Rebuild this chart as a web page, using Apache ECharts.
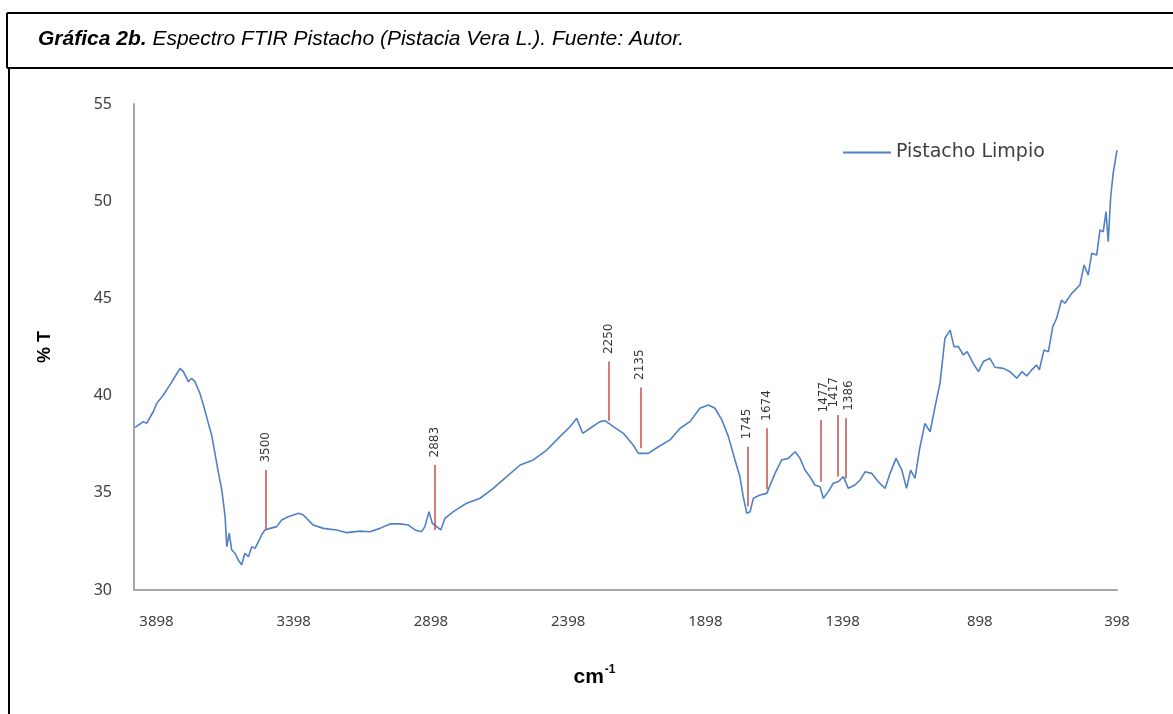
<!DOCTYPE html>
<html>
<head>
<meta charset="utf-8">
<script src="https://cdn.jsdelivr.net/npm/echarts@6/dist/echarts.min.js"></script>
<style>
  html, body { margin: 0; padding: 0; background: #fff; }
  #chart { width: 1173px; height: 714px; }
</style>
</head>
<body>
<div id="chart"></div>
<script>
// FTIR spectrum of pistachio: wavenumber (cm-1) and transmittance (%T)
const wavenumber = [
  3976, 3946, 3934, 3910, 3897, 3873, 3849, 3831, 3812, 3800, 3782, 3770, 3758, 3740, 3727,
  3709, 3697, 3685, 3673, 3660, 3648, 3642, 3633, 3624, 3612, 3600, 3588, 3576, 3563, 3551,
  3539, 3527, 3515, 3503, 3484, 3460, 3442, 3418, 3381, 3363, 3327, 3290, 3241, 3205, 3156,
  3120, 3084, 3047, 3011, 2980, 2956, 2932, 2920, 2905, 2893, 2877, 2862, 2847, 2816, 2768,
  2719, 2671, 2622, 2573, 2525, 2476, 2428, 2391, 2367, 2345, 2318, 2282, 2264, 2233, 2197,
  2161, 2142, 2106, 2069, 2027, 1990, 1954, 1918, 1887, 1863, 1838, 1814, 1790, 1772, 1760,
  1747, 1735, 1723, 1699, 1674, 1662, 1644, 1620, 1596, 1571, 1553, 1535, 1517, 1499, 1480,
  1468, 1450, 1432, 1414, 1395, 1377, 1353, 1334, 1316, 1292, 1268, 1243, 1225, 1203, 1182,
  1165, 1150, 1134, 1118, 1098, 1079, 1061, 1043, 1025, 1006, 992, 976, 958, 944, 922,
  903, 885, 861, 843, 812, 788, 763, 745, 727, 709, 691, 681, 664, 648, 632,
  618, 600, 588, 563, 533, 518, 503, 490, 472, 460, 448, 438, 430, 421, 412,
  398
];
const transmittance = [
  38.37, 38.66, 38.57, 39.17, 39.60, 40.03, 40.55, 40.97, 41.40, 41.23, 40.72, 40.89, 40.72, 40.12, 39.52,
  38.57, 37.97, 37.03, 36.08, 35.14, 33.77, 32.23, 32.92, 32.06, 31.89, 31.54, 31.29, 31.89, 31.71, 32.23,
  32.14, 32.48, 32.83, 33.09, 33.17, 33.26, 33.60, 33.77, 33.95, 33.86, 33.34, 33.17, 33.09, 32.95, 33.03,
  33.00, 33.17, 33.40, 33.40, 33.34, 33.09, 33.00, 33.26, 34.03, 33.43, 33.26, 33.09, 33.69, 34.03, 34.46,
  34.72, 35.23, 35.83, 36.43, 36.69, 37.20, 37.89, 38.40, 38.83, 38.06, 38.32, 38.66, 38.71, 38.40, 38.06,
  37.46, 37.03, 37.03, 37.37, 37.72, 38.32, 38.66, 39.35, 39.52, 39.35, 38.75, 37.89, 36.69, 35.83, 34.80,
  33.95, 34.03, 34.72, 34.89, 34.97, 35.40, 36.00, 36.69, 36.77, 37.11, 36.77, 36.17, 35.83, 35.40, 35.31,
  34.72, 35.06, 35.49, 35.57, 35.83, 35.23, 35.40, 35.66, 36.08, 36.00, 35.57, 35.23, 36.00, 36.77, 36.17,
  35.23, 36.17, 35.74, 37.20, 38.57, 38.14, 39.43, 40.63, 42.95, 43.37, 42.52, 42.52, 42.09, 42.26, 41.66,
  41.23, 41.75, 41.92, 41.46, 41.40, 41.23, 40.89, 41.23, 41.01, 41.32, 41.57, 41.32, 42.35, 42.26, 43.55,
  43.98, 44.92, 44.75, 45.26, 45.69, 46.72, 46.20, 47.32, 47.23, 48.52, 48.43, 49.46, 47.92, 50.23, 51.43,
  52.63
];

// Band assignments marked on the spectrum: position and the %T span of each marker
const bandWavenumber = [3500, 2883, 2250, 2135, 1745, 1674, 1477, 1417, 1386];
const bandLow  = [33.09, 33.09, 38.71, 37.29, 34.29, 35.18, 35.57, 35.83, 35.74];
const bandHigh = [36.17, 36.43, 41.75, 40.42, 37.37, 38.32, 38.75, 39.00, 38.83];

// Axis tick labels
const xTickValues = [3898, 3398, 2898, 2398, 1898, 1398, 898, 398];
const yTickValues = [30, 35, 40, 45, 50, 55];

const seriesName = 'Pistacho Limpio';

const chart = echarts.init(document.getElementById('chart'), null, { renderer: 'canvas' });

const spectrum = wavenumber.map((w, i) => [w, transmittance[i]]);
const bandLines = bandWavenumber.map((w, i) => [
  { coord: [w, bandLow[i]] },
  { coord: [w, bandHigh[i]] }
]);

// The closely spaced band labels (1477, 1417, 1386) are nudged sideways so they don't collide.
// Labels are rotated 90°, so a local y offset moves the text horizontally on screen.
const crowdedLabelNudge = { 1477: 3, 1417: -3, 1386: 3 };
const bandLabels = bandWavenumber.map((w, i) => ({
  value: [w, bandHigh[i]],
  label: { offset: [0, crowdedLabelNudge[w] || 0] }
}));

const frame = { stroke: '#000', lineWidth: 2 };

chart.setOption({
  animation: false,
  backgroundColor: '#fff',
  title: {
    text: '{b|Gráfica 2b.}{i| Espectro FTIR Pistacho (Pistacia Vera L.). Fuente: Autor.}',
    left: 33,
    top: 24,
    textStyle: {
      fontWeight: 'normal',
      rich: {
        b: { fontFamily: 'Liberation Sans', fontSize: 21, fontWeight: 'bold', fontStyle: 'italic', color: '#000' },
        i: { fontFamily: 'Liberation Sans', fontSize: 21, fontWeight: 'normal', fontStyle: 'italic', color: '#000' }
      }
    }
  },
  graphic: [
    { type: 'line', shape: { x1: 7, y1: 13, x2: 1173, y2: 13 }, style: frame },
    { type: 'line', shape: { x1: 7, y1: 13, x2: 7, y2: 68 }, style: frame },
    { type: 'line', shape: { x1: 7, y1: 68, x2: 1173, y2: 68 }, style: frame },
    { type: 'line', shape: { x1: 9, y1: 68, x2: 9, y2: 714 }, style: frame }
  ],
  legend: {
    data: [seriesName],
    left: 838,
    top: 138,
    icon: 'rect',
    itemWidth: 48,
    itemHeight: 2,
    textStyle: { fontFamily: 'DejaVu Sans', fontSize: 19, color: '#404040' }
  },
  grid: { left: 134, top: 104, right: 56, bottom: 124 },
  xAxis: {
    type: 'value',
    inverse: true,
    min: 398,
    max: 3980,
    name: '{a|cm}{s|-1}',
    nameLocation: 'middle',
    nameGap: 74,
    nameTextStyle: {
      padding: [0, 62, 0, 0],
      rich: {
        a: { fontFamily: 'Liberation Sans', fontSize: 21, fontWeight: 'bold', color: '#000', verticalAlign: 'bottom' },
        s: { fontFamily: 'Liberation Sans', fontSize: 12, fontWeight: 'bold', color: '#000', verticalAlign: 'top', padding: [0, 0, 12, 1] }
      }
    },
    axisLine: { show: true, lineStyle: { color: '#a6a6a6', width: 2 } },
    axisTick: { show: false },
    splitLine: { show: false },
    axisLabel: {
      customValues: xTickValues,
      formatter: v => String(v),
      margin: 24,
      fontFamily: 'Noto Sans',
      fontSize: 15,
      color: '#404040'
    }
  },
  yAxis: {
    type: 'value',
    min: 30,
    max: 55,
    interval: 5,
    name: '% T',
    nameLocation: 'middle',
    nameRotate: 90,
    nameGap: 80,
    nameTextStyle: { fontFamily: 'Liberation Sans', fontSize: 18, fontWeight: 'bold', color: '#000' },
    axisLine: { show: true, lineStyle: { color: '#a6a6a6', width: 2 } },
    axisTick: { show: false },
    splitLine: { show: false },
    axisLabel: {
      customValues: yTickValues,
      formatter: v => String(v),
      margin: 22,
      fontFamily: 'Noto Sans',
      fontSize: 16,
      color: '#404040'
    }
  },
  series: [
    {
      name: seriesName,
      type: 'line',
      data: spectrum,
      symbol: 'none',
      showSymbol: false,
      lineStyle: { color: '#4f81c4', width: 1.6 },
      itemStyle: { color: '#4f81c4' },
      emphasis: { disabled: true },
      markLine: {
        silent: true,
        symbol: ['none', 'none'],
        label: { show: false },
        lineStyle: { color: '#c0504d', width: 1.5, type: 'solid' },
        emphasis: { disabled: true },
        data: bandLines
      }
    },
    {
      name: 'bandas',
      type: 'scatter',
      data: bandLabels,
      symbolSize: 1,
      itemStyle: { color: 'rgba(0,0,0,0)' },
      silent: true,
      label: {
        show: true,
        formatter: p => String(p.value[0]),
        position: 'top',
        distance: 7,
        rotate: 90,
        align: 'left',
        verticalAlign: 'middle',
        fontFamily: 'DejaVu Sans',
        fontSize: 12,
        color: '#000'
      }
    }
  ]
});
</script>
</body>
</html>
